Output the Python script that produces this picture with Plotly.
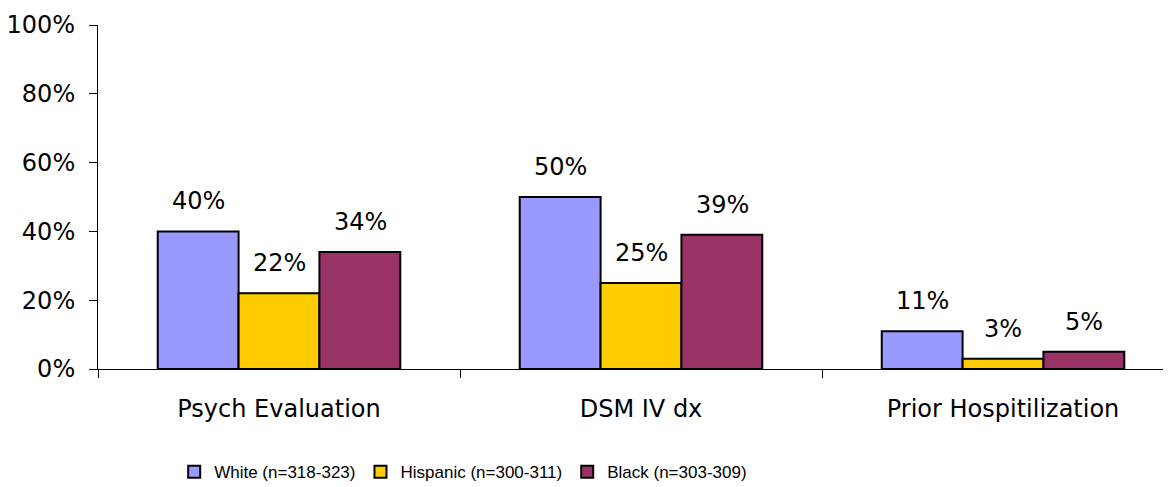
import plotly.graph_objects as go

categories = ["Psych Evaluation", "DSM IV dx", "Prior Hospitilization"]
groups = ["White (n=318-323)", "Hispanic (n=300-311)", "Black (n=303-309)"]
white = [40, 50, 11]
hispanic = [22, 25, 3]
black = [34, 39, 5]
colors = ["#9999FF", "#FFCC00", "#993366"]
y_ticks = [0, 20, 40, 60, 80, 100]

FONT = "DejaVu Sans"
BAR_PX = 81  # approx pixel width of one bar

fig = go.Figure()
for name, vals, col in zip(groups, [white, hispanic, black], colors):
    fig.add_trace(
        go.Bar(
            name=name,
            x=categories,
            y=vals,
            marker=dict(color=col, line=dict(color="black", width=2)),
        )
    )

# value labels above the bars
for i, vals in enumerate([white, hispanic, black]):
    for cat, v in zip(categories, vals):
        fig.add_annotation(
            x=cat, y=v, text=f"{v}%", showarrow=False,
            xshift=(i - 1) * BAR_PX, yshift=14, yanchor="bottom",
            font=dict(family=FONT, size=24, color="black"),
        )

# page body has an 8px margin, so the figure is a bit smaller than the window
fig.update_layout(
    width=1163,
    height=479,
    barmode="group",
    bargap=0.33,
    bargroupgap=0,
    plot_bgcolor="white",
    paper_bgcolor="white",
    margin=dict(l=90, r=0, t=17, b=118, autoexpand=False),
    font=dict(family=FONT, size=24, color="black"),
    legend=dict(
        orientation="h",
        x=0.071, xanchor="left",
        y=-0.30, yanchor="middle",
        font=dict(family="Liberation Sans", size=17),
        itemwidth=30,
        traceorder="normal",
    ),
)
fig.update_xaxes(
    range=[-0.5, 2.464],
    automargin=False,
    showline=True, linecolor="black", linewidth=1,
    ticks="outside", tickson="boundaries", ticklen=8, tickcolor="black",
    ticklabelstandoff=18,
    showgrid=False,
)
fig.update_yaxes(
    range=[0, 100],
    automargin=False,
    tickvals=y_ticks,
    ticktext=[f"{t}%" for t in y_ticks],
    showline=True, linecolor="black", linewidth=1,
    ticks="outside", ticklen=8, tickcolor="black",
    ticklabelstandoff=9,
    showgrid=False, zeroline=False,
)

fig.write_html("out.html")
